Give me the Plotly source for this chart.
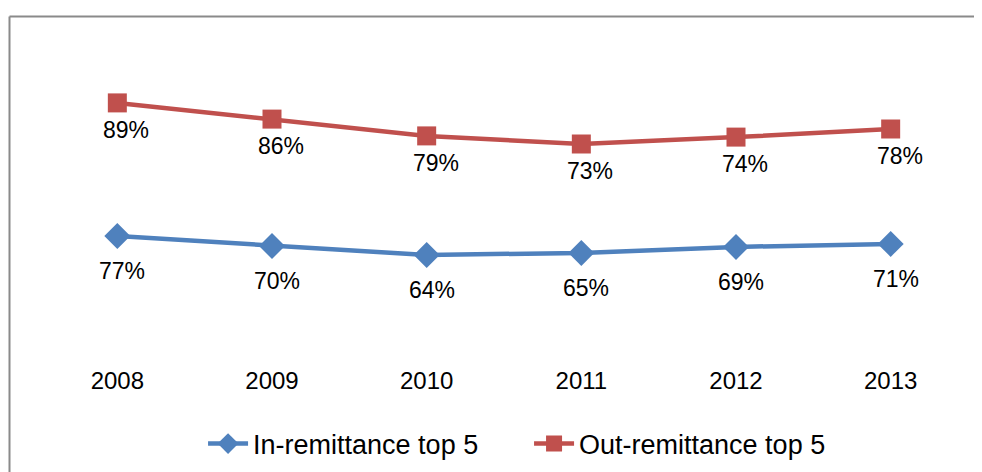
import plotly.graph_objects as go

years = ["2008", "2009", "2010", "2011", "2012", "2013"]
# plotted positions (hidden y axis, 0..1)
in_values = [0.413, 0.380, 0.350, 0.357, 0.377, 0.387]
out_values = [0.857, 0.803, 0.747, 0.720, 0.743, 0.770]
# data labels as printed on the chart
in_labels = ["77%", "70%", "64%", "65%", "69%", "71%"]
out_labels = ["89%", "86%", "79%", "73%", "74%", "78%"]

BLUE = "#4F81BD"
RED = "#C0504D"
FONT = "Liberation Sans, Arial, sans-serif"

# the page adds an 8px body margin; the figure is sized to fit the window
OFF = 8
W, H = 982 - OFF, 472 - OFF
ML, MR, MT = 32, 14, 52
MB = H - MT - 300
pw = W - ML - MR
ph = H - MT - MB

def px_to_paper_x(px):
    return (px - OFF - ML) / pw

def py_to_paper_y(py):
    return (H - MB - (py - OFF)) / ph

def py_to_container_y(py):
    return (H - (py - OFF)) / H

fig = go.Figure()
fig.add_trace(go.Scatter(
    x=years, y=in_values, name="In-remittance top 5", mode="lines+markers",
    line=dict(color=BLUE, width=4.5),
    marker=dict(symbol="diamond", size=20, color=BLUE),
))
fig.add_trace(go.Scatter(
    x=years, y=out_values, name="Out-remittance top 5", mode="lines+markers",
    line=dict(color=RED, width=4.5),
    marker=dict(symbol="square", size=19, color=RED),
))

annotations = []
for ys, labs, dy, dx in [(in_values, in_labels, -35, 5),
                         (out_values, out_labels, -27, 9)]:
    for i, (y, t) in enumerate(zip(ys, labs)):
        annotations.append(dict(
            x=i, y=y, text=t, showarrow=False, xref="x", yref="y",
            yanchor="middle", xanchor="center", yshift=dy, xshift=dx,
            font=dict(family=FONT, size=23, color="#000000"),
        ))

border = "#8a8a8a"
shapes = [
    dict(type="line", xref="paper", yref="paper",
         x0=px_to_paper_x(9.5), x1=px_to_paper_x(1000),
         y0=py_to_paper_y(16.5), y1=py_to_paper_y(16.5),
         line=dict(color=border, width=2)),
    dict(type="line", xref="paper", yref="paper",
         x0=px_to_paper_x(9.5), x1=px_to_paper_x(9.5),
         y0=py_to_paper_y(16.5), y1=py_to_paper_y(500),
         line=dict(color=border, width=2)),
]

fig.update_layout(
    width=W, height=H,
    margin=dict(l=ML, r=MR, t=MT, b=MB, autoexpand=False),
    paper_bgcolor="white", plot_bgcolor="white",
    font=dict(family=FONT, size=24, color="#000000"),
    showlegend=True,
    legend=dict(orientation="h", x=0.527, xanchor="center",
                yref="container", y=py_to_container_y(444), yanchor="middle",
                font=dict(family=FONT, size=27, color="#000000"),
                itemwidth=40, entrywidth=271, bgcolor="rgba(0,0,0,0)"),
    xaxis=dict(type="category", range=[-0.5, 5.5], showgrid=False,
               zeroline=False, showline=False, ticks="",
               ticklabelstandoff=4,
               tickfont=dict(family=FONT, size=24, color="#000000")),
    yaxis=dict(range=[0, 1], visible=False, showgrid=False, zeroline=False),
    annotations=annotations,
    shapes=shapes,
    hovermode=False,
)

fig.write_html("out.html")
